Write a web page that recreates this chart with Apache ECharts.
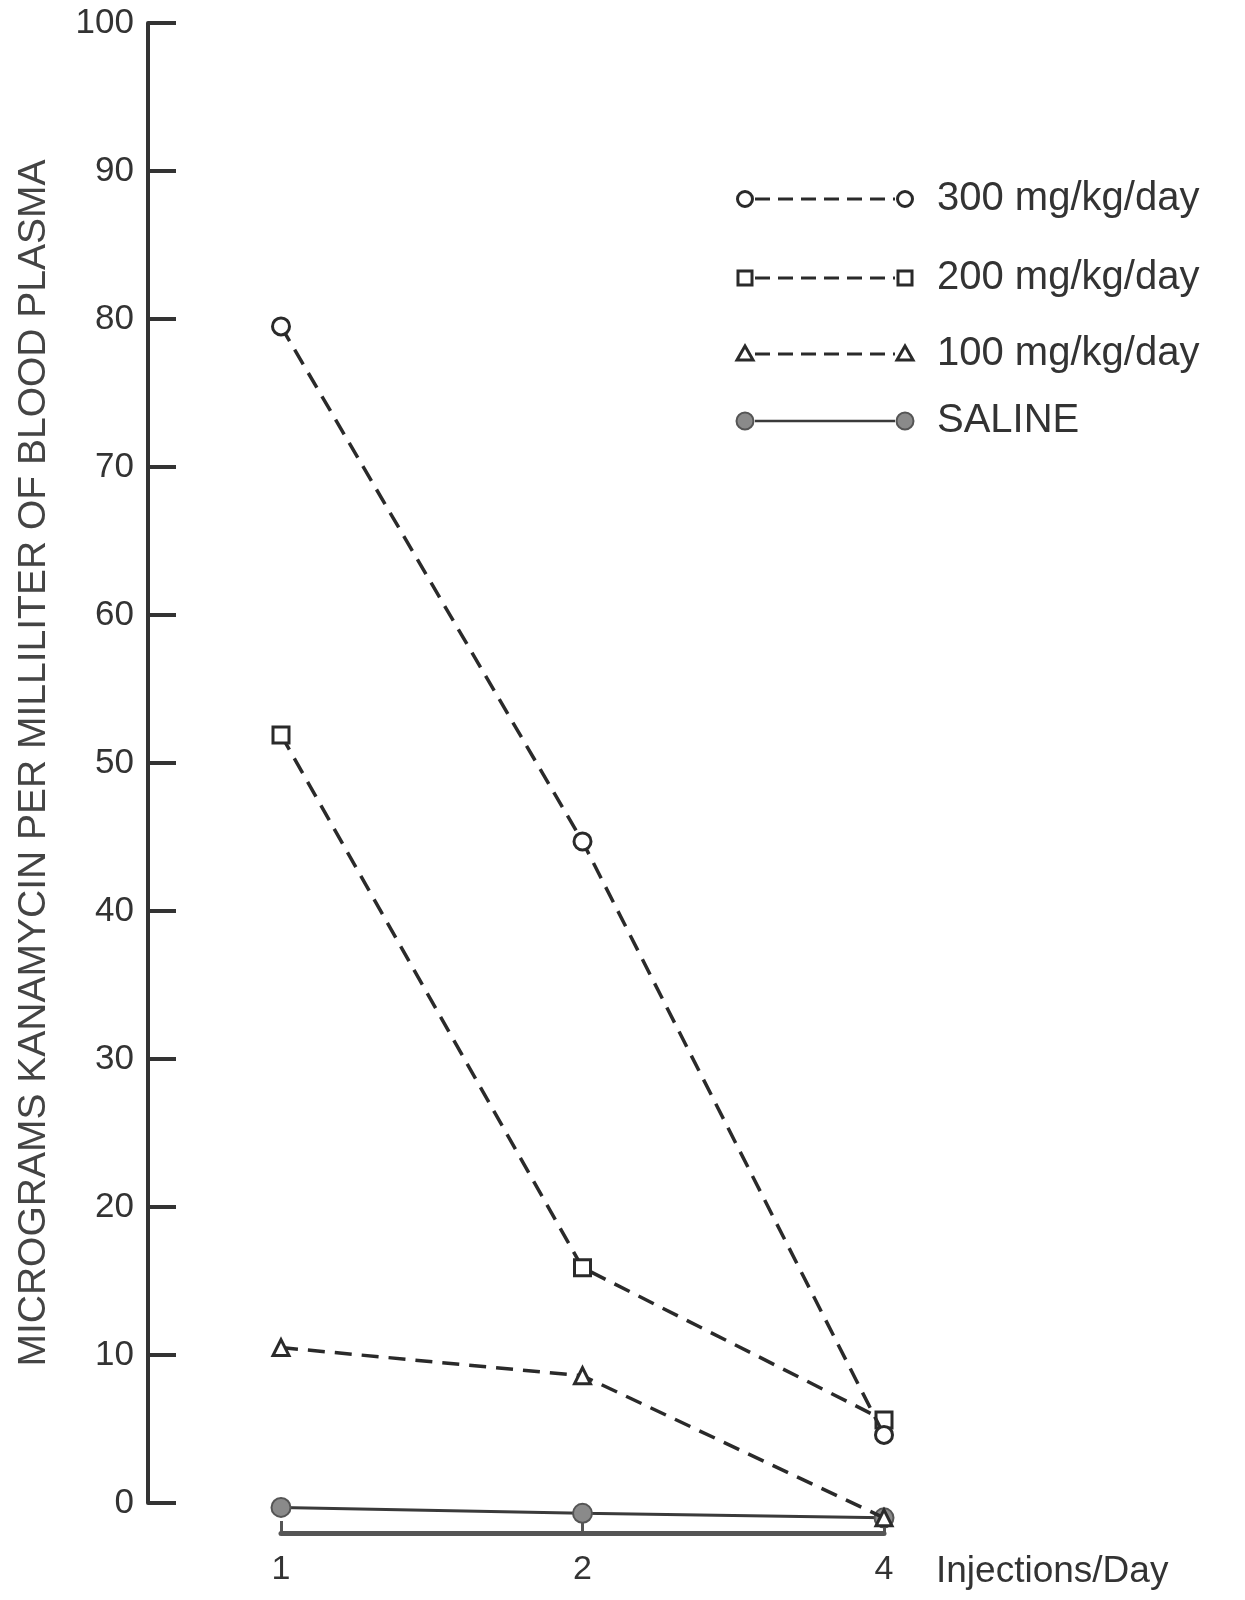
<!DOCTYPE html>
<html>
<head>
<meta charset="utf-8">
<script src="https://cdn.jsdelivr.net/npm/echarts@6/dist/echarts.min.js"></script>
<style>
html,body{margin:0;padding:0;background:#ffffff;}
#chart{width:1245px;height:1600px;}
</style>
</head>
<body>
<div id="chart"></div>
<script>
// ---- data ----
const categories = ['1', '2', '4'];
const seriesNames = ['300 mg/kg/day', '200 mg/kg/day', '100 mg/kg/day', 'SALINE'];
const v300 = [79.5, 44.7, 4.6];
const v200 = [51.9, 15.9, 5.6];
const v100 = [10.5, 8.6, -1.0];
const vSaline = [-0.3, -0.7, -1.0];
const yMin = 0, yMax = 100, yInterval = 10;
const yTitle = 'MICROGRAMS KANAMYCIN PER MILLILITER OF BLOOD PLASMA';
const xTitle = 'Injections/Day';

// ---- styles ----
const INK = '#2a2a2a';
const FONT = 'Liberation Sans';
const dash = [17, 10];
const openItem = {color: '#ffffff', borderColor: INK, borderWidth: 3};
const styles = [
  {symbol: 'circle', size: 17, line: {type: dash, width: 3.5, color: INK}, item: openItem},
  {symbol: 'rect', size: 16, line: {type: dash, width: 3.5, color: INK}, item: openItem},
  {symbol: 'triangle', size: 16, line: {type: dash, width: 3.5, color: INK}, item: openItem},
  {symbol: 'circle', size: 19, line: {type: 'solid', width: 3, color: '#3a3a3a'}, item: {color: '#8a8a8a', borderColor: '#555', borderWidth: 2}}
];
const values = [v300, v200, v100, vSaline];

const series = seriesNames.map((name, i) => ({
  name: name,
  type: 'line',
  data: values[i],
  symbol: styles[i].symbol,
  symbolSize: styles[i].size,
  showAllSymbol: true,
  clip: false,
  lineStyle: styles[i].line,
  itemStyle: styles[i].item,
  z: 10 - i,
  animation: false
}));

// ---- legend built as graphics ----
const legRowY = [199, 278, 354, 421];
const legLeft = 745, legRight = 905, legText = 937;
function legSymbol(i, x, y) {
  const s = styles[i];
  const st = {fill: s.item.color, stroke: s.item.borderColor, lineWidth: s.item.borderWidth};
  if (s.symbol === 'circle') return {type: 'circle', shape: {cx: x, cy: y, r: s.size / 2 - 1}, style: st};
  if (s.symbol === 'rect') return {type: 'rect', shape: {x: x - 7, y: y - 7, width: 14, height: 14}, style: st};
  return {type: 'polygon', shape: {points: [[x, y - 8], [x + 8, y + 6], [x - 8, y + 6]]}, style: st};
}
const legendGraphics = [];
seriesNames.forEach((name, i) => {
  const y = legRowY[i];
  legendGraphics.push({
    type: 'line',
    shape: {x1: legLeft + 10, y1: y, x2: legRight - 10, y2: y},
    style: {stroke: styles[i].line.color, lineWidth: i === 3 ? 2.5 : 3, lineDash: i === 3 ? null : [15, 8]}
  });
  legendGraphics.push(legSymbol(i, legLeft, y));
  legendGraphics.push(legSymbol(i, legRight, y));
  legendGraphics.push({
    type: 'text',
    x: legText, y: y,
    style: {text: name, font: '40px "' + FONT + '"', fill: '#333', textVerticalAlign: 'middle', textAlign: 'left'}
  });
});

const chart = echarts.init(document.getElementById('chart'), null, {renderer: 'canvas'});
chart.setOption({
  backgroundColor: '#ffffff',
  animation: false,
  grid: {left: 281, right: 361, top: 23, bottom: 97, containLabel: false},
  xAxis: {
    type: 'category',
    data: categories,
    boundaryGap: false,
    offset: 30,
    axisLine: {show: true, onZero: false, lineStyle: {color: '#555', width: 5}},
    axisTick: {show: true, inside: true, length: 12, lineStyle: {color: '#555', width: 3}},
    axisLabel: {fontFamily: FONT, fontSize: 34, color: '#333', margin: 20},
    splitLine: {show: false},
    name: xTitle,
    nameLocation: 'end',
    nameGap: 52,
    nameTextStyle: {fontFamily: FONT, fontSize: 37, color: '#333', verticalAlign: 'top', padding: [20, 0, 0, 0]}
  },
  yAxis: {
    type: 'value',
    min: yMin, max: yMax, interval: yInterval,
    offset: 133,
    axisLine: {show: true, lineStyle: {color: '#333', width: 4}},
    axisTick: {show: true, inside: true, length: 28, lineStyle: {color: '#333', width: 4}},
    axisLabel: {fontFamily: FONT, fontSize: 35, color: '#333', margin: 14},
    splitLine: {show: false},
    name: yTitle,
    nameLocation: 'middle',
    nameRotate: 90,
    nameGap: 94,
    nameTextStyle: {fontFamily: FONT, fontSize: 39, color: '#444'}
  },
  series: series,
  graphic: legendGraphics
});
</script>
</body>
</html>
